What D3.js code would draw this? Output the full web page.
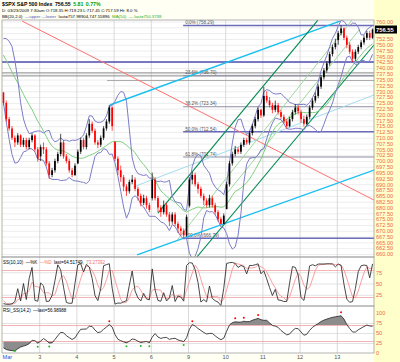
<!DOCTYPE html>
<html>
<head>
<meta charset="utf-8">
<script src="https://cdn.jsdelivr.net/npm/d3@7"></script>
<style>
body { margin: 0; background: #fffff4; }
svg text { font-family: "Liberation Sans", Arial, sans-serif; }
</style>
</head>
<body>
<div id="chart"></div>
<script>
// ---- data (30 min bars, 13 per day) ----
const dayLabels = ["Mar", "3", "4", "5", "6", "9", "10", "11", "12", "13"];
const barsPerDay = 13;

const opens = [
  729.5, 725, 718, 714, 710, 708, 711, 707, 709, 706, 709, 711, 705,
  702, 706, 705, 699, 694, 696, 700, 703, 708, 702, 700, 696, 694,
  699, 704, 709, 706, 711, 716, 713, 708, 707, 710, 714, 717, 723,
  708.3, 701, 696, 693, 689, 687, 691, 692, 688, 685, 682, 684, 681,
  684, 692, 684, 680, 678, 681, 677, 674, 677, 673, 671, 670, 668,
  680.8, 692, 694, 690, 688, 685, 683, 681, 684, 681, 678, 675, 673,
  679.3, 690, 699, 703, 705, 704, 707, 709, 708, 712, 715, 718, 722,
  719.6, 728, 726, 724, 722, 724, 721, 719, 717, 715, 718, 721, 723,
  720.9, 718, 716, 719, 723, 726, 728, 732, 736, 739, 742, 746, 749,
  752, 755, 757, 753, 750, 747, 744, 747, 749, 751, 753, 755, 753
];
const highs = [
  729.6, 726, 719, 715, 711, 712, 711.5, 710, 710, 710, 712, 711.5, 706,
  707, 708, 706, 700, 697, 701, 704, 711.7, 709, 703, 701, 697, 699,
  705, 710, 710, 712, 718, 717, 714, 709, 711, 715, 718, 724.1, 723.5,
  708.3, 702, 698, 694, 690, 692, 694, 693, 689, 686, 685.5, 685, 682,
  695, 693, 685, 681, 683, 682, 678, 678, 678, 674, 672, 671, 677,
  693, 695.3, 695, 691, 689, 686, 684, 685.5, 685, 682, 679, 676, 677.5,
  691, 700, 704, 706.5, 706, 708, 710, 710, 713, 716, 719, 723, 722.5,
  731.9, 730, 727.5, 725, 726, 725, 722, 720, 718, 719, 722, 724.5, 724,
  722, 719.5, 720, 724, 727, 729.5, 733, 737, 740, 743, 747, 750, 752.6,
  756, 758.3, 757.5, 754, 751, 748, 748, 750, 752, 754, 756, 756, 757
];
const lows = [
  724, 717, 713, 709, 706, 707, 706, 706, 705, 705, 708, 704, 699.7,
  700, 703, 698, 692.3, 693, 695, 699, 702, 701, 699, 695, 693, 693.5,
  698.6, 703, 705, 705, 710, 712, 707, 705.5, 706, 709, 713, 716, 713,
  700, 694, 691, 687, 685, 686, 690, 687, 683, 680.5, 681, 679.5, 677.9,
  683, 683, 678, 676, 677, 676, 672, 673, 672, 669, 668, 666.8, 667.5,
  680, 690, 689, 686, 684, 681, 680, 680, 680, 677, 674, 672.9, 672.9,
  679.3, 689, 698, 702, 703, 703, 706, 707, 707, 711, 714, 717, 718.5,
  719, 725, 723, 720.5, 721, 720, 718, 716, 713.9, 714.5, 717, 720, 720,
  716.5, 714.8, 715.5, 718, 722, 725, 727, 731, 735, 738, 741, 745, 748,
  750, 754, 752, 748.5, 746, 742.5, 743, 746, 748, 750, 752, 752, 752.5
];
const closes = [
  725, 718, 714, 710, 708, 711, 707, 709, 706, 709, 711, 705, 701,
  706, 705, 699, 694, 696, 700, 703, 708, 702, 700, 696, 694, 698,
  704, 709, 706, 711, 716, 713, 708, 707, 710, 714, 717, 723, 715,
  701, 696, 693, 689, 687, 691, 692, 688, 685, 682, 684, 681, 679,
  692, 684, 680, 678, 681, 677, 674, 677, 673, 671, 670, 668, 676,
  692, 694, 690, 688, 685, 683, 681, 684, 681, 678, 675, 673, 676.5,
  690, 699, 703, 705, 704, 707, 709, 708, 712, 715, 718, 722, 719.6,
  728, 726, 724, 722, 724, 721, 719, 717, 715, 718, 721, 723, 721.4,
  718, 716, 719, 723, 726, 728, 732, 736, 739, 742, 746, 749, 750.7,
  755, 757, 753, 750, 747, 744, 747, 749, 751, 753, 755, 753, 756.55
];
// bars before the first visible bar, only used to start the indicators
const warmCloses = [758, 755, 753, 750, 748, 749, 751, 747, 745, 746, 748, 744, 741, 742, 738, 735];
const warmHighs  = [760, 759, 756, 754, 751, 750, 752, 752, 748, 747, 749, 749, 745, 743, 743, 739];
const warmLows   = [756, 754, 752, 749, 746, 746, 748, 746, 744, 744, 745, 743, 740, 739, 737, 734.5];

// drawn annotations: [bar, price] end points
const redLine = [[7.0, 760.2], [130, 683.2]];
const cyanLines = [[[37.7, 724.1], [118.1, 760.2]], [[47.2, 659.6], [130, 696.1]]];
const lightCyanLine = [[45.8, 688.8], [130, 728.4]];
const darkGreenLines = [[[54.5, 677.6], [110.4, 760.6]], [[68.1, 658.7], [130, 749.9]]];
const lightGreenLines = [[[61.2, 666.0], [122.3, 760.6]], [[77.9, 685.0], [125.1, 756.8]]];
const blueLevel = 742.6;
const grayLevels = [737.9, 736.6];
const grayShortLevel = [36.7, 734.6];
const fibHigh = 758.29, fibLow = 666.79, fibStartBar = 63.3;
const fibLevels = [0, 23.6, 38.2, 50, 61.8, 100];

// ---- layout ----
const plotL = 2, plotR = 374;
const mainTop = 20, mainBot = 257, ssTop = 257, ssBot = 306, rsiTop = 306, rsiBot = 353;
const n = closes.length;

const x = d3.scaleLinear().domain([0, n]).range([plotL, plotR]);
const xc = i => x(i + 0.5);
const y = d3.scaleLinear().domain([660, 760]).range([254, 21.5]);
const ySS = d3.scaleLinear().domain([0, 100]).range([306, 261]);
const yRSI = d3.scaleLinear().domain([0, 100]).range([353, 313]);
const dayStarts = d3.range(0, n, barsPerDay);

// ---- indicators ----
const off = warmCloses.length;
const allClose = warmCloses.concat(closes);
const allHigh = warmHighs.concat(highs);
const allLow = warmLows.concat(lows);

const bbUpper = [], bbLower = [], ma = [];
for (let i = 0; i < n; i++) {
    const j = i + off;
    const win = allClose.slice(j - 6, j + 1);
    const m = d3.mean(win);
    const sd = Math.sqrt(d3.mean(win, v => (v - m) * (v - m)));
    bbUpper.push(m + 2 * sd);
    bbLower.push(m - 2 * sd);
    ma.push(d3.mean(allClose.slice(j - 16, j + 1)));
}

const rawK = allClose.map(function (c, j) {
    if (j < 3) return null;
    const hh = d3.max(allHigh.slice(j - 3, j + 1)), ll = d3.min(allLow.slice(j - 3, j + 1));
    return 100 * (c - ll) / (hh - ll);
});
const pctK = [], pctD = [];
for (let i = 0; i < n; i++) {
    const j = i + off;
    pctK.push(rawK[j]);
    pctD.push(d3.mean(rawK.slice(j - 3, j + 1)));
}

const rsiAll = [];
let ag = 0, al = 0;
const rp = 7;
for (let j = 1; j < allClose.length; j++) {
    const ch = allClose[j] - allClose[j - 1];
    const g = Math.max(ch, 0), l = Math.max(-ch, 0);
    if (j <= rp) { ag += g / rp; al += l / rp; }
    else { ag = (ag * (rp - 1) + g) / rp; al = (al * (rp - 1) + l) / rp; }
    rsiAll[j] = al === 0 ? 100 : 100 - 100 / (1 + ag / al);
}
const rsi = [];
for (let i = 0; i < n; i++) {
    const j = i + off;
    rsi.push((rsiAll[j] + rsiAll[j - 1]) / 2);
}

// ---- svg ----
const svg = d3.select("#chart").append("svg")
    .attr("width", 400).attr("height", 362);

svg.append("rect").attr("width", 400).attr("height", 362).attr("fill", "#fffff4");
svg.append("rect").attr("x", plotR).attr("y", 0).attr("width", 26).attr("height", 362).attr("fill", "#ffffcc");

[[mainTop, mainBot], [ssTop, ssBot], [rsiTop, rsiBot]].forEach(function (p) {
    svg.append("rect").attr("x", plotL).attr("y", p[0])
        .attr("width", plotR - plotL).attr("height", p[1] - p[0])
        .attr("fill", "white");
});

function clip(id, top, bot) {
    svg.append("clipPath").attr("id", id).append("rect")
        .attr("x", plotL).attr("y", top).attr("width", plotR - plotL).attr("height", bot - top);
}
clip("clipMain", mainTop, mainBot);
clip("clipSS", ssTop, ssBot);
clip("clipRSI", rsiTop, rsiBot);

function hGrid(g, scale, values, color) {
    g.append("g").attr("transform", "translate(" + plotL + ",0)")
        .call(d3.axisRight(scale).tickValues(values).tickSize(plotR - plotL).tickFormat(""))
        .call(a => a.select(".domain").remove())
        .call(a => a.selectAll("line").attr("stroke", color).attr("stroke-width", 0.8));
}
function vGrid(g, top, bot) {
    g.append("g").attr("transform", "translate(0," + bot + ")")
        .call(d3.axisBottom(x).tickValues(dayStarts.slice(1)).tickSize(-(bot - top)).tickFormat(""))
        .call(a => a.select(".domain").remove())
        .call(a => a.selectAll("line").attr("stroke", "#d0d0d0").attr("stroke-width", 0.8));
}

// ---- main panel ----
const main = svg.append("g").attr("clip-path", "url(#clipMain)");
hGrid(main, y, d3.range(660, 760.01, 2.5), "#e8e8e8");
vGrid(main, mainTop, mainBot);

function seg(pts, color, w) {
    main.append("line")
        .attr("x1", x(pts[0][0])).attr("y1", y(pts[0][1]))
        .attr("x2", x(pts[1][0])).attr("y2", y(pts[1][1]))
        .attr("stroke", color).attr("stroke-width", w);
}
function level(price, fromBar, color, w) {
    main.append("line")
        .attr("x1", x(fromBar)).attr("x2", plotR)
        .attr("y1", y(price)).attr("y2", y(price))
        .attr("stroke", color).attr("stroke-width", w);
}

level(blueLevel, 0, "#4c4cb0", 1.4);
grayLevels.forEach(p => level(p, 0, "#8a8a8a", 1));
level(grayShortLevel[1], grayShortLevel[0], "#a8a8a8", 1);

fibLevels.forEach(function (lv) {
    const p = fibHigh - (fibHigh - fibLow) * lv / 100;
    const strong = lv === 0 || lv === 50 || lv === 100;
    level(p, fibStartBar, strong ? "#6c6cb8" : "#8e8ea4", strong ? 1.5 : 1.1);
    main.append("text")
        .attr("x", x(fibStartBar) + 2).attr("y", y(p) - 1.3)
        .attr("font-size", 4.6).attr("fill", "#555")
        .text(lv.toFixed(1) + "% (" + p.toFixed(2) + ")");
});

seg(redLine, "#ff7070", 1);
seg(lightCyanLine, "#a6dcef", 1);
cyanLines.forEach(l => seg(l, "#19bff0", 1.4));
lightGreenLines.forEach(l => seg(l, "#9fd89f", 1));
darkGreenLines.forEach(l => seg(l, "#008a50", 1.1));

const line = d3.line().x((d, i) => xc(i)).y(d => y(d));
main.append("path").datum(ma).attr("d", line)
    .attr("fill", "none").attr("stroke", "#7fd07f").attr("stroke-width", 1);
[bbUpper, bbLower].forEach(function (b) {
    main.append("path").datum(b).attr("d", line)
        .attr("fill", "none").attr("stroke", "#7c7cc8").attr("stroke-width", 1);
});

const bars = closes.map((c, i) => ({ i: i, o: opens[i], h: highs[i], l: lows[i], c: c }));
const bw = (x(1) - x(0)) * 0.6;
const barColor = d => d.c < d.o ? "#ff0000" : "#000000";
main.selectAll(".wick").data(bars).join("line")
    .attr("class", "wick")
    .attr("x1", d => xc(d.i)).attr("x2", d => xc(d.i))
    .attr("y1", d => y(d.h)).attr("y2", d => y(d.l))
    .attr("stroke", barColor).attr("stroke-width", 0.7);
main.selectAll(".body").data(bars).join("rect")
    .attr("class", "body")
    .attr("x", d => xc(d.i) - bw / 2)
    .attr("y", d => y(Math.max(d.o, d.c)))
    .attr("width", bw)
    .attr("height", d => Math.max(0.8, Math.abs(y(d.o) - y(d.c))))
    .attr("fill", barColor);

// ---- stochastics panel ----
const ss = svg.append("g").attr("clip-path", "url(#clipSS)");
hGrid(ss, ySS, [25, 50, 75], "#dcdcdc");
vGrid(ss, ssTop, ssBot);
hGrid(ss, ySS, [20, 80], "#f4a0a0");
const lineSS = d3.line().x((d, i) => xc(i)).y(d => ySS(d));
ss.append("path").datum(pctD).attr("d", lineSS)
    .attr("fill", "none").attr("stroke", "#f7a0a0").attr("stroke-width", 1);
ss.append("path").datum(pctK).attr("d", lineSS)
    .attr("fill", "none").attr("stroke", "#333").attr("stroke-width", 0.9);

// ---- rsi panel ----
const rp2 = svg.append("g").attr("clip-path", "url(#clipRSI)");
hGrid(rp2, yRSI, [25, 50, 75], "#dcdcdc");
vGrid(rp2, rsiTop, rsiBot);
rp2.append("path").datum(rsi)
    .attr("d", d3.area().x((d, i) => xc(i)).y0(yRSI(70)).y1(d => yRSI(Math.max(d, 70))))
    .attr("fill", "#8c8c8c");
rp2.append("path").datum(rsi)
    .attr("d", d3.area().x((d, i) => xc(i)).y0(yRSI(30)).y1(d => yRSI(Math.min(d, 30))))
    .attr("fill", "#8c8c8c");
hGrid(rp2, yRSI, [30, 70], "#f4a0a0");
rp2.append("path").datum(rsi)
    .attr("d", d3.line().x((d, i) => xc(i)).y(d => yRSI(d)))
    .attr("fill", "none").attr("stroke", "#333").attr("stroke-width", 0.9);

const peaks = rsi.map((v, i) => ({ i: i, v: v })).filter(d =>
    d.v > 70 && (d.i === 0 || rsi[d.i - 1] <= d.v) && (d.i === n - 1 || rsi[d.i + 1] < d.v));
const troughs = rsi.map((v, i) => ({ i: i, v: v })).filter(d =>
    d.v < 30 && (d.i === 0 || rsi[d.i - 1] >= d.v) && (d.i === n - 1 || rsi[d.i + 1] > d.v));
rp2.selectAll(".red").data(peaks).join("circle")
    .attr("cx", d => xc(d.i)).attr("cy", d => yRSI(d.v) - 3.5).attr("r", 1)
    .attr("fill", "#ff0000");
rp2.selectAll(".green").data(troughs).join("circle")
    .attr("cx", d => xc(d.i)).attr("cy", d => Math.min(rsiBot - 2, yRSI(d.v) + 3.5)).attr("r", 1)
    .attr("fill", "#22bb22");

// panel frames
[[mainTop, mainBot], [ssTop, ssBot], [rsiTop, rsiBot]].forEach(function (p) {
    svg.append("rect").attr("x", plotL).attr("y", p[0])
        .attr("width", plotR - plotL).attr("height", p[1] - p[0])
        .attr("fill", "none").attr("stroke", "#a0a0a0").attr("stroke-width", 0.8);
});

// ---- right axes ----
function rightAxis(scale, values, fmt) {
    svg.append("g").attr("transform", "translate(" + plotR + ",0)")
        .call(d3.axisRight(scale).tickValues(values).tickSize(0).tickPadding(2).tickFormat(fmt))
        .call(a => a.select(".domain").remove())
        .attr("font-size", 5.6).attr("font-family", null)
        .call(a => a.selectAll("text").attr("fill", "#f0684a"));
}
rightAxis(y, d3.range(660, 760.01, 2.5).filter(v => v !== 757.5 && v !== 755), d3.format(".2f"));
rightAxis(ySS, [25, 50, 75], d3.format("d"));
rightAxis(yRSI, [0, 25, 50, 75, 100], d3.format("d"));

const lastClose = closes[n - 1];
svg.append("rect").attr("x", plotR + 1).attr("y", y(lastClose) - 4)
    .attr("width", 22).attr("height", 8).attr("fill", "#000");
svg.append("text").attr("x", plotR + 2).attr("y", y(lastClose) + 2.2)
    .attr("font-size", 5.8).attr("font-weight", "bold").attr("fill", "#fff")
    .text(lastClose.toFixed(2));

// ---- x axis ----
svg.append("g").attr("transform", "translate(0," + rsiBot + ")")
    .call(d3.axisBottom(x).tickValues(dayStarts).tickSize(0).tickPadding(2)
        .tickFormat((d, i) => dayLabels[i]))
    .call(a => a.select(".domain").remove())
    .attr("font-size", 5.6).attr("font-family", null)
    .call(a => a.selectAll("text").attr("fill", (d, i) => i === 0 ? "#2255ee" : "#555")
        .attr("text-anchor", (d, i) => i === 0 ? "start" : "middle"));

// ---- header and legends: pieces laid out one after the other ----
function row(x0, yp, size, parts) {
    let cx = x0;
    parts.forEach(function (p) {
        const t = svg.append("text").attr("x", cx).attr("y", yp)
            .attr("font-size", size).attr("fill", p[1]).text(p[0]);
        if (p[2]) t.attr("font-weight", "bold");
        cx += t.node().getComputedTextLength() + 2.5;
    });
}
row(2, 6, 5.2, [["$SPX S&P 500 Index", "#000", true], ["756.55", "#000", true],
    ["5.81", "#00a000", true], ["0.77%", "#00a000", true]]);
row(2, 12.3, 4.3, [["D: 03/23/2009  7:30am O:718.35 H:719.23 L:717.45 C:717.59 Ht: 8.0 %", "#000"]]);
row(2, 18.3, 4.3, [["BB(20,2.0)", "#000"], ["\u2014upper \u2014lower", "#5555bb"],
    ["last=757.98904,747.55896", "#000"], ["MA(50)", "#22aa22"], ["\u2014 last=750.3738", "#22aa22"]]);
row(3, 263.5, 4.5, [["SS(10,10)", "#000"], ["\u2014%K", "#000"], ["\u2014%D", "#f07070"],
    ["last=64.51749,", "#000"], ["73.27392", "#f07070"]]);
row(3, 311.5, 4.5, [["RSI_SS(14,2)", "#000"], ["\u2014last=56.98988", "#000"]]);
</script>
</body>
</html>
